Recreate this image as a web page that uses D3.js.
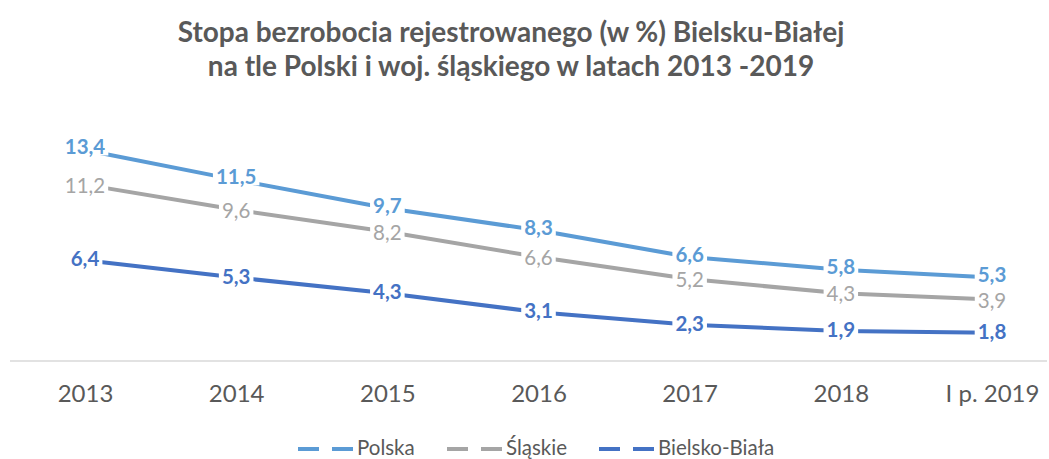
<!DOCTYPE html>
<html><head><meta charset="utf-8">
<script src="https://cdn.jsdelivr.net/npm/d3@7/dist/d3.min.js"></script>
<style>
html,body{margin:0;padding:0;background:#fff;}
svg{display:block;font-family:Lato, "Open Sans", sans-serif;}
</style></head>
<body>
<svg id="chart" width="1049" height="459"></svg>
<script>
const categories = ["2013","2014","2015","2016","2017","2018","I p. 2019"];
const polska = [13.4, 11.5, 9.7, 8.3, 6.6, 5.8, 5.3];
const slaskie = [11.2, 9.6, 8.2, 6.6, 5.2, 4.3, 3.9];
const bielsko = [6.4, 5.3, 4.3, 3.1, 2.3, 1.9, 1.8];
const seriesNames = ["Polska", "Śląskie", "Bielsko-Biała"];
const titleLines = ["Stopa bezrobocia rejestrowanego (w %) Bielsku-Białej", "na tle Polski i woj. śląskiego w latach 2013 -2019"];

const colors = ["#5B9BD5", "#A5A5A5", "#4472C4"];
const weights = ["bold", "normal", "bold"];
const labelShift = [-3.5, 0, -2];
const series = [polska, slaskie, bielsko];

const svg = d3.select("#chart");
const x = d3.scalePoint().domain(categories).range([85, 992]);
const y = d3.scaleLinear().domain([0, 14]).range([361, 140.5]);

// title
svg.append("g").selectAll("text").data(titleLines).join("text")
  .attr("x", 511).attr("y", (d,i) => 42 + i*34)
  .attr("text-anchor", "middle").attr("font-weight", "bold")
  .attr("font-size", 28).attr("fill", "#595959").text(d => d);

// axis baseline
svg.append("line").attr("x1", 10).attr("x2", 1047).attr("y1", y(0)).attr("y2", y(0))
  .attr("stroke", "#d9d9d9").attr("stroke-width", 1.5);

const xAxis = svg.append("g").attr("transform", `translate(0,${y(0)})`)
  .call(d3.axisBottom(x).tickSize(0).tickPadding(24));
xAxis.select(".domain").remove();
xAxis.selectAll("text").attr("font-size", 24).attr("fill", "#595959")
  .attr("font-family", "Lato, 'Open Sans', sans-serif");

const line = d3.line().x((d,i) => x(categories[i])).y(d => y(d));

series.forEach((vals, s) => {
  svg.append("path").datum(vals).attr("d", line)
    .attr("fill", "none").attr("stroke", colors[s]).attr("stroke-width", 4)
    .attr("stroke-linejoin", "round");
});

series.forEach((vals, s) => {
  const g = svg.append("g");
  vals.forEach((v, i) => {
    const lg = g.append("g");
    const t = lg.append("text")
      .attr("x", x(categories[i])).attr("y", y(v) + labelShift[s])
      .attr("text-anchor", "middle").attr("dominant-baseline", "central")
      .attr("font-size", 20.5).attr("font-weight", weights[s]).attr("fill", colors[s])
      .text(String(v).replace(".", ","));
    const bb = t.node().getBBox();
    lg.insert("rect", "text").attr("x", bb.x - 3).attr("y", bb.y + 3)
      .attr("width", bb.width + 6).attr("height", bb.height - 6).attr("fill", "#fff");
  });
});

// legend
const legendX = [298, 447, 599];
const lg = svg.append("g");
seriesNames.forEach((name, s) => {
  const x0 = legendX[s];
  [0, 34].forEach(off => {
    lg.append("line").attr("x1", x0 + off).attr("x2", x0 + off + 21)
      .attr("y1", 449).attr("y2", 449).attr("stroke", colors[s]).attr("stroke-width", 4);
  });
  lg.append("text").attr("x", x0 + 59).attr("y", 454.5)
    .attr("font-size", 20.5).attr("fill", "#595959").text(name);
});
</script>
</body></html>
